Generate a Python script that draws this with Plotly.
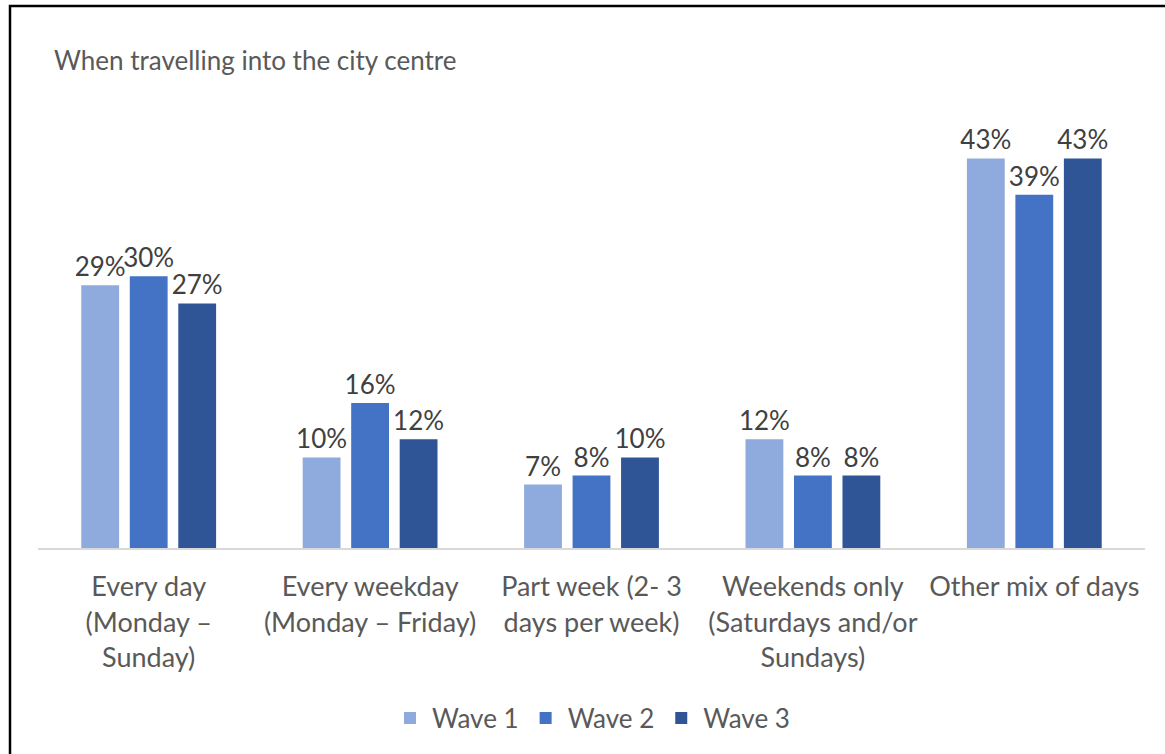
import plotly.graph_objects as go

categories = [
    "Every day<br>(Monday –<br>Sunday)",
    "Every weekday<br>(Monday – Friday)",
    "Part week (2- 3<br>days per week)",
    "Weekends only<br>(Saturdays and/or<br>Sundays)",
    "Other mix of days",
]
series_names = ["Wave 1", "Wave 2", "Wave 3"]
wave1 = [29, 10, 7, 12, 43]
wave2 = [30, 16, 8, 8, 39]
wave3 = [27, 12, 10, 8, 43]
colors = ["#8FAADC", "#4472C4", "#2F5597"]
title_text = "When travelling into the city centre"

FONT = "Lato"

fig = go.Figure()
for name, vals, col in zip(series_names, [wave1, wave2, wave3], colors):
    fig.add_trace(go.Bar(
        x=categories, y=vals, name=name,
        marker=dict(color=col, line=dict(width=0)),
        text=[f"{v}%" for v in vals], textposition="outside",
        constraintext="none",
        textfont=dict(family=FONT, size=26, color="#404040"),
        cliponaxis=False,
    ))

L, R, T, B = 38, 20, 95, 206
W, H = 1165, 754
pw = W - L - R
ph = H - T - B
base = H - B

fig.update_layout(
    width=W, height=H,
    margin=dict(l=L, r=R, t=T, b=B),
    paper_bgcolor="white", plot_bgcolor="white",
    barmode="group", bargap=0.343, bargroupgap=0.22,
    showlegend=True,
    legend=dict(orientation="h", x=0.5, xanchor="center", y=(base - 718) / ph, yanchor="middle",
                font=dict(family=FONT, size=26, color="#595959"),
                itemwidth=34, traceorder="normal"),
    xaxis=dict(showline=True, linecolor="#D9D9D9", linewidth=2,
               ticks="outside", ticklen=14, tickcolor="rgba(0,0,0,0)",
               tickfont=dict(family=FONT, size=27, color="#595959"),
               showgrid=False, zeroline=False),
    yaxis=dict(range=[0, 50], showticklabels=False, showgrid=False, zeroline=False,
               showline=False, ticks=""),
    font=dict(family=FONT),
    annotations=[dict(text=title_text, xref="paper", yref="paper",
                      x=(52 - L) / pw, y=(base - 60) / ph, xanchor="left", yanchor="middle",
                      showarrow=False, font=dict(family=FONT, size=26, color="#595959"))],
    shapes=[dict(type="rect", xref="paper", yref="paper",
                 x0=(10 - L) / pw, x1=(1190 - L) / pw,
                 y0=(base - 790) / ph, y1=(base - 6) / ph,
                 line=dict(color="black", width=2.5), fillcolor="rgba(0,0,0,0)", layer="below")],
)

fig.write_html("out.html", config={"displayModeBar": False},
               post_script="document.body.style.margin='0px';")
